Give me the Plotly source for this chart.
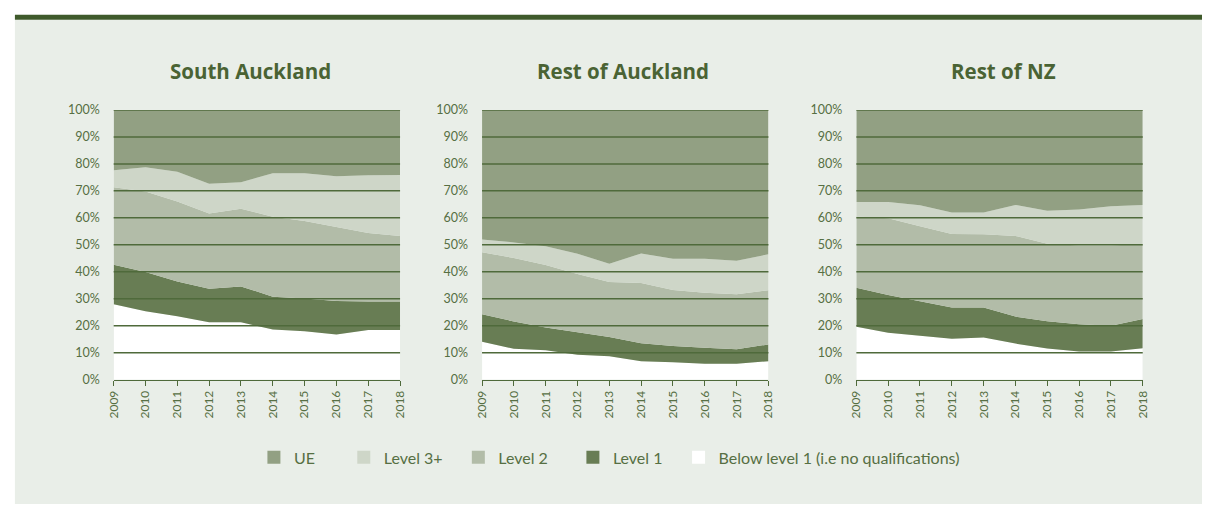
import plotly.graph_objects as go

years = [2009, 2010, 2011, 2012, 2013, 2014, 2015, 2016, 2017, 2018]
regions = ["South Auckland", "Rest of Auckland", "Rest of NZ"]
series_names = ["Below level 1 (i.e no qualifications)", "Level 1", "Level 2", "Level 3+", "UE"]

# share of school leavers by highest qualification (%)
south_below = [28.0, 25.4, 23.5, 21.3, 21.3, 18.6, 18.0, 16.8, 18.4, 18.4]
south_l1 = [14.6, 14.5, 12.9, 12.4, 13.3, 12.2, 12.1, 12.4, 10.6, 10.6]
south_l2 = [28.7, 29.9, 29.7, 27.9, 28.8, 29.6, 28.7, 27.4, 25.4, 24.3]
south_l3 = [6.3, 9.0, 11.0, 11.0, 9.8, 16.1, 17.7, 18.8, 21.4, 22.6]
south_ue = [22.4, 21.2, 22.9, 27.4, 26.8, 23.5, 23.5, 24.6, 24.2, 24.1]

akl_below = [14.1, 11.5, 10.9, 9.3, 8.7, 6.9, 6.5, 5.9, 5.9, 6.9]
akl_l1 = [10.2, 10.1, 8.5, 8.3, 7.1, 6.6, 6.0, 6.0, 5.4, 6.2]
akl_l2 = [23.0, 23.5, 23.1, 21.6, 20.4, 22.4, 20.8, 20.3, 20.4, 20.1]
akl_l3 = [4.7, 5.8, 7.0, 7.5, 6.8, 10.9, 11.5, 12.6, 12.4, 13.3]
akl_ue = [48.0, 49.1, 50.5, 53.3, 57.0, 53.2, 55.2, 55.2, 55.9, 53.5]

nz_below = [19.6, 17.4, 16.3, 15.2, 15.7, 13.4, 11.6, 10.5, 10.5, 11.7]
nz_l1 = [14.5, 14.0, 12.8, 11.6, 11.1, 10.0, 10.1, 10.1, 9.5, 10.8]
nz_l2 = [26.4, 28.5, 27.8, 27.2, 27.1, 29.9, 28.7, 29.2, 29.8, 27.8]
nz_l3 = [5.4, 6.0, 7.8, 8.0, 8.1, 11.5, 12.2, 13.3, 14.5, 14.5]
nz_ue = [34.1, 34.1, 35.3, 38.0, 38.0, 35.2, 37.4, 36.9, 35.7, 35.2]

region_data = [
    [south_below, south_l1, south_l2, south_l3, south_ue],
    [akl_below, akl_l1, akl_l2, akl_l3, akl_ue],
    [nz_below, nz_l1, nz_l2, nz_l3, nz_ue],
]

y_ticks = [0, 10, 20, 30, 40, 50, 60, 70, 80, 90, 100]

colors = ["#ffffff", "#687d54", "#b2bca8", "#ced6c8", "#92a083"]
dark = "#4f6a3b"
text_col = "#566f43"
panel = "#e9eee8"

W, H = 1209, 511
x_domains = [(107 / W, 397 / W), (480 / W, 770 / W), (859 / W, 1149 / W)]
y_domain = (1 - 383 / H, 1 - 105 / H)
title_x = [246, 623, 1008]
# left edge (px) of each legend entry: UE, Level 3+, Level 2, Level 1, Below
legend_x = [249, 340, 456, 572, 679]

fig = go.Figure()

for i, (region, vals) in enumerate(zip(regions, region_data)):
    xa = "x" if i == 0 else f"x{i + 1}"
    ya = "y" if i == 0 else f"y{i + 1}"
    for name, v, col in zip(series_names, vals, colors):
        fig.add_trace(go.Scatter(
            x=years, y=v, xaxis=xa, yaxis=ya,
            stackgroup=f"s{i}", mode="lines",
            line=dict(width=0), fillcolor=col,
            name=name, showlegend=False, hoverinfo="skip"
        ))

layout = dict(
    width=W, height=H,
    margin=dict(l=0, r=0, t=0, b=0),
    paper_bgcolor="white",
    plot_bgcolor="rgba(0,0,0,0)",
    font=dict(family="Lato, sans-serif", color=text_col, size=12),
    showlegend=True,
)

# legend entries (square swatches), one small legend per entry so the spacing follows the original
for k, (name, col) in enumerate(list(zip(series_names, colors))[::-1]):
    lg = "legend" if k == 0 else f"legend{k + 1}"
    fig.add_trace(go.Scatter(
        x=[None], y=[None], mode="markers", name=name, legend=lg,
        marker=dict(symbol="square", size=13, color=col)
    ))
    layout[lg] = dict(
        orientation="h", x=legend_x[k] / W, xanchor="left", y=1 - 463 / H, yanchor="middle",
        bgcolor="rgba(0,0,0,0)", font=dict(size=16, color=text_col), itemwidth=30
    )

shapes = [
    # panel background and top bar
    dict(type="rect", xref="paper", yref="paper", x0=7 / W, x1=1, y0=0, y1=1 - 12 / H,
         fillcolor=panel, line=dict(width=0), layer="below"),
    dict(type="rect", xref="paper", yref="paper", x0=7 / W, x1=1, y0=1 - 12 / H, y1=1 - 7 / H,
         fillcolor="#3f5a2b", line=dict(width=0), layer="below"),
]
annotations = []

for i, region in enumerate(regions):
    sfx = "" if i == 0 else str(i + 1)
    layout[f"xaxis{sfx}"] = dict(
        domain=x_domains[i], range=[years[0], years[-1]],
        tickvals=years, ticktext=[str(y) for y in years], tickangle=-90,
        ticks="outside", ticklen=5, tickcolor=dark, tickwidth=1.3,
        showline=True, linecolor=dark, linewidth=1.3,
        showgrid=False, zeroline=False, tickfont=dict(size=12, color=text_col),
        anchor=f"y{sfx}", fixedrange=True
    )
    layout[f"yaxis{sfx}"] = dict(
        domain=y_domain, range=[0, 100],
        tickvals=y_ticks, ticktext=[f"{t}%" for t in y_ticks],
        showgrid=False, zeroline=False, showline=False, ticks="",
        ticklabelstandoff=13, tickfont=dict(size=12.5, color=text_col),
        anchor=f"x{sfx}", fixedrange=True
    )
    for t in y_ticks[1:]:
        shapes.append(dict(
            type="line", xref=f"x{sfx} domain", yref=f"y{sfx}",
            x0=0, x1=1, y0=t, y1=t, layer="above",
            line=dict(color=dark, width=1.5)
        ))
    annotations.append(dict(
        text=f"<b>{region}</b>", xref="paper", yref="paper",
        x=title_x[i] / W, y=1 - 65 / H,
        showarrow=False, xanchor="center", yanchor="middle",
        font=dict(size=20.5, color="#4a6334", family="Open Sans, sans-serif")
    ))

layout["shapes"] = shapes
layout["annotations"] = annotations
fig.update_layout(**layout)

# drop the default page margin so the figure sits at the window origin
fig.write_html("out.html", config={"displayModeBar": False},
               post_script="document.body.style.margin='0';")
